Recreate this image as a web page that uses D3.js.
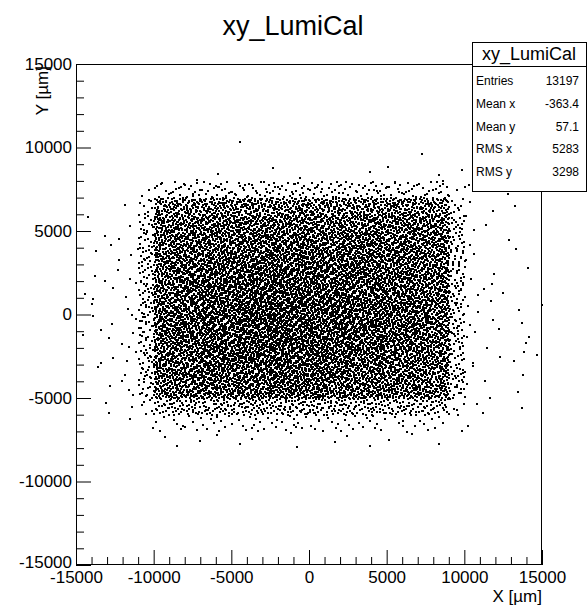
<!DOCTYPE html>
<html>
<head>
<meta charset="utf-8">
<script src="https://cdn.jsdelivr.net/npm/d3@7/dist/d3.min.js"></script>
<style>
  body { margin: 0; background: #fff; }
  svg { display: block; }
  text { font-family: "Liberation Sans", Arial, sans-serif; fill: #000; }
</style>
</head>
<body>
<svg id="chart" width="587" height="609"></svg>
<script>
// lower edge of each 1000 um bin, x columns and y rows
const xBins = [-15000, -14000, -13000, -12000, -11000, -10000, -9000, -8000, -7000, -6000,
  -5000, -4000, -3000, -2000, -1000, 0, 1000, 2000, 3000, 4000,
  5000, 6000, 7000, 8000, 9000, 10000, 11000, 12000, 13000, 14000]
const yBins = [10000, 9000, 8000, 7000, 6000, 5000, 4000, 3000, 2000, 1000,
  0, -1000, -2000, -3000, -4000, -5000, -6000, -7000, -8000]

// hit counts per bin (row = yBins, column = xBins)
const counts = [
  [0,0,0,0,0, 0,0,0,0,0, 1,0,0,0,0, 0,0,0,0,0, 0,0,0,0,0, 0,0,0,0,0],
  [0,0,0,0,0, 0,0,0,0,0, 0,0,0,0,0, 0,0,0,0,0, 0,0,1,0,0, 0,0,0,0,0],
  [0,0,0,0,0, 0,0,1,0,1, 0,0,1,0,1, 0,0,0,1,0, 1,0,0,2,1, 0,0,0,0,0],
  [0,0,0,0,2, 7,9,10,8,11, 9,8,11,10,9, 11,10,9,8,11, 10,9,8,9,3, 1,0,1,0,0],
  [0,0,0,1,7, 34,37,39,36,40, 38,41,37,39,42, 38,40,36,39,37, 41,38,39,35,8, 1,1,0,1,0],
  [1,0,0,1,13, 44,46,48,47,49, 48,50,49,51,50, 49,48,50,48,47, 49,46,47,44,14, 2,1,0,0,0],
  [0,1,2,0,14, 46,48,50,51,52, 51,53,52,53,54, 52,51,53,50,51, 49,50,48,45,15, 1,0,1,0,0],
  [0,1,1,2,15, 47,50,52,53,55, 56,54,57,55,57, 56,54,53,54,51, 52,50,49,46,16, 2,0,0,1,0],
  [0,2,1,1,14, 48,51,54,56,57, 58,60,59,61,59, 60,57,58,55,54, 52,53,51,47,15, 1,1,0,0,1],
  [1,0,1,2,15, 49,53,55,57,59, 61,62,62,63,64, 62,61,60,57,56, 55,53,50,48,16, 1,2,1,0,0],
  [1,1,0,2,16, 50,54,56,59,61, 62,64,63,66,65, 64,62,61,59,57, 56,54,51,49,15, 2,1,0,1,1],
  [0,2,1,1,15, 50,53,57,59,61, 63,65,64,66,67, 65,63,60,60,58, 55,53,52,48,16, 1,1,1,1,0],
  [1,0,2,2,14, 49,52,55,58,60, 61,63,62,64,63, 62,61,59,57,55, 54,52,50,47,15, 2,1,0,1,1],
  [0,1,1,2,15, 48,51,54,56,58, 59,60,60,61,60, 60,58,57,55,53, 52,50,49,46,14, 1,0,1,2,1],
  [0,1,1,1,14, 47,50,52,54,55, 56,58,57,58,57, 56,55,54,52,51, 50,49,47,44,15, 2,1,0,1,0],
  [0,0,1,2,13, 44,47,49,50,51, 52,53,52,54,52, 51,50,50,49,48, 47,46,44,42,13, 1,1,0,1,0],
  [0,1,1,1,5, 18,20,21,19,22, 21,23,20,22,21, 22,20,21,19,20, 18,19,20,17,5, 1,1,0,1,0],
  [0,0,0,1,1, 3,4,5,4,5, 4,6,5,4,5, 6,4,5,4,5, 3,4,4,3,1, 1,0,0,0,0],
  [0,0,0,0,0, 1,1,1,0,1, 1,1,0,1,1, 0,1,1,1,0, 1,1,0,1,0, 0,0,0,0,0]
]

const majorTicks = [-15000, -10000, -5000, 0, 5000, 10000, 15000]
const minorTicks = [-14000, -13000, -12000, -11000, -9000, -8000, -7000, -6000, -4000, -3000,
  -2000, -1000, 1000, 2000, 3000, 4000, 6000, 7000, 8000, 9000, 11000, 12000, 13000, 14000]

const statLabels = ['Entries', 'Mean x', 'Mean y', 'RMS x', 'RMS y']
const statValues = ['13197', '-363.4', '57.1', '5283', '3298']

const svg = d3.select('#chart')
const margin = { top: 64, right: 45, bottom: 44, left: 76 }
const width = 587, height = 609

const xScale = d3.scaleLinear()
  .domain([-15000, 15000])
  .range([margin.left, width - margin.right])
const yScale = d3.scaleLinear()
  .domain([-15000, 15000])
  .range([height - margin.bottom, margin.top])

// place each bin's hits inside the bin along a Halton (2,3) sequence
function halton(i, b) {
  let f = 1, r = 0
  while (i > 0) { f /= b; r += f * (i % b); i = Math.floor(i / b) }
  return r
}
const hits = []
let n = 0
counts.forEach((row, r) => {
  row.forEach((c, k) => {
    for (let i = 0; i < c; i++) {
      n++
      hits.push({ x: xBins[k] + halton(n, 2) * 1000, y: yBins[r] + halton(n, 3) * 1000 })
    }
  })
})

svg.append('g')
  .attr('shape-rendering', 'crispEdges')
  .selectAll('rect')
  .data(hits)
  .enter()
  .append('rect')
  .attr('x', d => Math.floor(xScale(d.x)))
  .attr('y', d => Math.floor(yScale(d.y)))
  .attr('width', 2)
  .attr('height', 2)
  .attr('fill', '#000')

const xAxisY = height - margin.bottom
const fmt = d => String(d)

// x axis: labels + major ticks, then minor ticks
svg.append('g')
  .attr('transform', `translate(0, ${xAxisY})`)
  .call(d3.axisBottom(xScale).tickValues(majorTicks).tickFormat(fmt)
    .tickSizeInner(-15).tickSizeOuter(0).tickPadding(6))
  .call(g => g.select('.domain').remove())
  .call(g => g.selectAll('text').style('font-size', '17px').style('font-family', 'Liberation Sans'))
svg.append('g')
  .attr('transform', `translate(0, ${xAxisY})`)
  .call(d3.axisBottom(xScale).tickValues(minorTicks).tickFormat('')
    .tickSizeInner(-8).tickSizeOuter(0))
  .call(g => g.select('.domain').remove())

// y axis
svg.append('g')
  .attr('transform', `translate(${margin.left}, 0)`)
  .call(d3.axisLeft(yScale).tickValues(majorTicks).tickFormat(fmt)
    .tickSizeInner(-15).tickSizeOuter(0).tickPadding(4))
  .call(g => g.select('.domain').remove())
  .call(g => g.selectAll('text').style('font-size', '17px').style('font-family', 'Liberation Sans'))
  // lowest label sits a little higher, clear of the x labels
  .call(g => g.selectAll('.tick').filter(d => d === -15000).select('text').attr('y', -3))
svg.append('g')
  .attr('transform', `translate(${margin.left}, 0)`)
  .call(d3.axisLeft(yScale).tickValues(minorTicks).tickFormat('')
    .tickSizeInner(-8).tickSizeOuter(0))
  .call(g => g.select('.domain').remove())

svg.selectAll('.tick line').attr('stroke', '#000')

// frame
svg.append('rect')
  .attr('x', margin.left + 0.5)
  .attr('y', margin.top + 0.5)
  .attr('width', width - margin.left - margin.right - 1)
  .attr('height', height - margin.top - margin.bottom - 1)
  .attr('fill', 'none')
  .attr('stroke', '#000')

// titles
svg.append('text')
  .attr('x', 293).attr('y', 35)
  .attr('text-anchor', 'middle')
  .style('font-size', '27px')
  .text('xy_LumiCal')

svg.append('text')
  .attr('x', width - margin.right).attr('y', 602)
  .attr('text-anchor', 'end')
  .style('font-size', '17px')
  .text('X [\u00b5m]')

svg.append('text')
  .attr('transform', 'translate(48, 66) rotate(-90)')
  .attr('text-anchor', 'end')
  .style('font-size', '17px')
  .text('Y [\u00b5m]')

// stats box
const box = svg.append('g')
box.append('rect')
  .attr('x', 472.5).attr('y', 42.5)
  .attr('width', 114).attr('height', 149)
  .attr('fill', '#fff').attr('stroke', '#000')
box.append('line')
  .attr('x1', 472.5).attr('x2', 586.5)
  .attr('y1', 66.5).attr('y2', 66.5)
  .attr('stroke', '#000')
box.append('text')
  .attr('x', 529).attr('y', 60)
  .attr('text-anchor', 'middle')
  .style('font-size', '18px')
  .text('xy_LumiCal')

const rowY = d3.scaleLinear().domain([0, 4]).range([85, 176])
box.selectAll('text.lab')
  .data(statLabels)
  .enter()
  .append('text')
  .attr('class', 'lab')
  .attr('x', 476)
  .attr('y', (d, i) => rowY(i))
  .style('font-size', '12px')
  .text(d => d)
box.selectAll('text.val')
  .data(statValues)
  .enter()
  .append('text')
  .attr('class', 'val')
  .attr('x', 579)
  .attr('y', (d, i) => rowY(i))
  .attr('text-anchor', 'end')
  .style('font-size', '12px')
  .text(d => d)
</script>
</body>
</html>
